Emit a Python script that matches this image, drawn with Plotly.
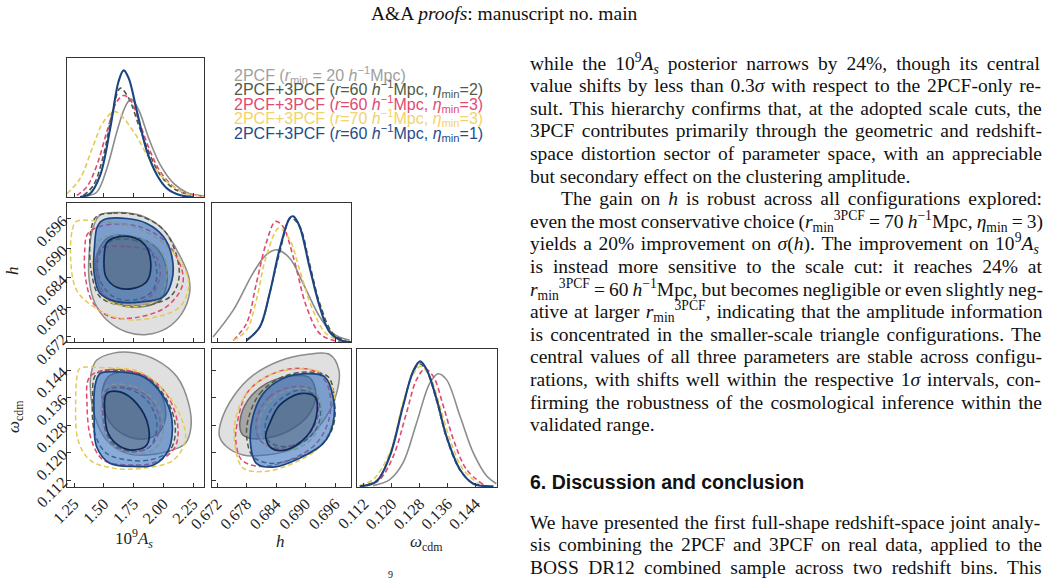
import re
import plotly.graph_objects as go

# ---------------- data ----------------
AS_TICKS = [1.25, 1.50, 1.75, 2.00, 2.25]
AS_LABELS = ["1.25", "1.50", "1.75", "2.00", "2.25"]
H_TICKS = [0.672, 0.678, 0.684, 0.690, 0.696]
H_LABELS = ["0.672", "0.678", "0.684", "0.690", "0.696"]
OM_TICKS = [0.112, 0.120, 0.128, 0.136, 0.144]
OM_LABELS = ["0.112", "0.120", "0.128", "0.136", "0.144"]

SERIES = ["2pcf", "eta2", "eta3", "r70", "eta1"]
LEGEND_TEXT = [
    "2PCF (<i>r</i><sub>min</sub> = 20 <i>h</i><sup>−1</sup>Mpc)",
    "2PCF+3PCF (<i>r</i>=60 <i>h</i><sup>−1</sup>Mpc, <i>η</i><sub>min</sub>=2)",
    "2PCF+3PCF (<i>r</i>=60 <i>h</i><sup>−1</sup>Mpc, <i>η</i><sub>min</sub>=3)",
    "2PCF+3PCF (<i>r</i>=70 <i>h</i><sup>−1</sup>Mpc, <i>η</i><sub>min</sub>=3)",
    "2PCF+3PCF (<i>r</i>=60 <i>h</i><sup>−1</sup>Mpc, <i>η</i><sub>min</sub>=1)",
]

# 1D marginal of 10^9 A_s  (x, relative density)
As_pdf_2pcf = [(1.357, 0.007), (1.442, 0.036), (1.526, 0.205), (1.610, 0.470), (1.681, 0.651), (1.729, 0.704),
               (1.793, 0.627), (1.878, 0.422), (1.976, 0.229), (2.089, 0.096), (2.201, 0.031), (2.342, 0.007)]
As_pdf_eta2 = [(1.329, 0.012), (1.413, 0.084), (1.498, 0.301), (1.568, 0.590), (1.639, 0.783), (1.709, 0.711),
               (1.793, 0.518), (1.878, 0.325), (1.976, 0.157), (2.089, 0.060), (2.230, 0.012)]
As_pdf_eta3 = [(1.273, 0.012), (1.357, 0.072), (1.442, 0.229), (1.526, 0.470), (1.610, 0.687), (1.667, 0.730),
               (1.723, 0.699), (1.807, 0.518), (1.892, 0.325), (1.976, 0.181), (2.089, 0.072), (2.201, 0.024),
               (2.342, 0.007)]
As_pdf_r70 = [(1.190, 0.024), (1.301, 0.133), (1.413, 0.373), (1.498, 0.542), (1.596, 0.614), (1.751, 0.470),
              (1.864, 0.301), (1.976, 0.157), (2.089, 0.072), (2.201, 0.024), (2.342, 0.005)]
As_pdf_eta1 = [(1.301, 0.0), (1.385, 0.024), (1.470, 0.157), (1.554, 0.494), (1.624, 0.831), (1.667, 0.911),
               (1.709, 0.855), (1.779, 0.614), (1.864, 0.325), (1.948, 0.157), (2.033, 0.060), (2.145, 0.012),
               (2.258, 0.0)]

# 1D marginal of h
h_pdf_2pcf = [(0.6712, 0.036), (0.6753, 0.229), (0.6793, 0.494), (0.6820, 0.627), (0.6842, 0.663), (0.6868, 0.602),
              (0.6895, 0.422), (0.6929, 0.181), (0.6956, 0.060), (0.6990, 0.012)]
h_pdf_eta2 = [(0.6780, 0.012), (0.6807, 0.108), (0.6827, 0.349), (0.6847, 0.639), (0.6870, 0.892), (0.6888, 0.831),
              (0.6908, 0.566), (0.6929, 0.277), (0.6956, 0.060), (0.6983, 0.007)]
h_pdf_eta3 = [(0.6753, 0.012), (0.6780, 0.133), (0.6800, 0.422), (0.6820, 0.711), (0.6839, 0.867), (0.6854, 0.831),
              (0.6875, 0.614), (0.6902, 0.253), (0.6929, 0.060), (0.6956, 0.012), (0.6990, 0.0)]
h_pdf_r70 = [(0.6753, 0.012), (0.6780, 0.084), (0.6800, 0.301), (0.6820, 0.614), (0.6846, 0.819), (0.6868, 0.735),
             (0.6888, 0.518), (0.6915, 0.229), (0.6942, 0.060), (0.6970, 0.012), (0.6990, 0.0)]
h_pdf_eta1 = [(0.6780, 0.012), (0.6807, 0.108), (0.6827, 0.349), (0.6847, 0.663), (0.6868, 0.892), (0.6875, 0.904),
              (0.6888, 0.831), (0.6908, 0.542), (0.6929, 0.253), (0.6949, 0.072), (0.6976, 0.007), (0.6993, 0.0)]

# 1D marginal of omega_cdm
om_pdf_2pcf = [(0.1146, 0.005), (0.1194, 0.049), (0.1232, 0.170), (0.1271, 0.461), (0.1309, 0.752), (0.1333, 0.820),
               (0.1357, 0.777), (0.1396, 0.510), (0.1434, 0.243), (0.1473, 0.073), (0.1500, 0.019)]
om_pdf_eta2 = [(0.1108, 0.003), (0.1156, 0.040), (0.1194, 0.225), (0.1232, 0.590), (0.1261, 0.830), (0.1279, 0.893),
               (0.1300, 0.840), (0.1329, 0.620), (0.1357, 0.355), (0.1396, 0.118), (0.1434, 0.020), (0.1473, 0.003)]
om_pdf_eta3 = [(0.1127, 0.005), (0.1165, 0.049), (0.1204, 0.218), (0.1242, 0.534), (0.1271, 0.777), (0.1295, 0.854),
               (0.1319, 0.801), (0.1348, 0.583), (0.1377, 0.340), (0.1415, 0.121), (0.1463, 0.012)]
om_pdf_r70 = [(0.1108, 0.005), (0.1146, 0.049), (0.1194, 0.243), (0.1232, 0.607), (0.1261, 0.813), (0.1283, 0.874),
              (0.1309, 0.801), (0.1338, 0.583), (0.1367, 0.340), (0.1405, 0.121), (0.1453, 0.012)]
om_pdf_eta1 = [(0.1108, 0.0), (0.1156, 0.036), (0.1194, 0.218), (0.1232, 0.583), (0.1261, 0.837), (0.1281, 0.910),
               (0.1300, 0.850), (0.1329, 0.631), (0.1357, 0.364), (0.1396, 0.121), (0.1434, 0.019), (0.1492, 0.0)]

# 2D contours: (10^9 A_s, h); _o = 95%, _i = 68%
hA_2pcf_o = [(1.467, 0.6968), (1.636, 0.6973), (1.833, 0.6965), (2.002, 0.6938), (2.129, 0.6890), (2.213, 0.6843),
             (2.221, 0.6809), (2.157, 0.6768), (2.030, 0.6738), (1.861, 0.6725), (1.692, 0.6730), (1.523, 0.6755),
             (1.425, 0.6789), (1.377, 0.6836), (1.377, 0.6890), (1.405, 0.6938)]
hA_2pcf_i = [(1.551, 0.6924), (1.749, 0.6924), (1.918, 0.6907), (2.016, 0.6870), (2.030, 0.6829), (1.974, 0.6795),
             (1.833, 0.6782), (1.636, 0.6785), (1.495, 0.6805), (1.439, 0.6843), (1.445, 0.6890)]
hA_eta2_o = [(1.439, 0.6965), (1.580, 0.6972), (1.805, 0.6966), (2.002, 0.6938), (2.115, 0.6883), (2.129, 0.6836),
             (2.058, 0.6802), (1.861, 0.6785), (1.636, 0.6785), (1.467, 0.6802), (1.397, 0.6850), (1.382, 0.6911),
             (1.397, 0.6944)]
hA_eta2_i = [(1.551, 0.6914), (1.749, 0.6917), (1.889, 0.6897), (1.946, 0.6849), (1.903, 0.6812), (1.749, 0.6795),
             (1.580, 0.6802), (1.467, 0.6836), (1.453, 0.6883)]
hA_eta3_o = [(1.368, 0.6931), (1.523, 0.6948), (1.805, 0.6944), (2.030, 0.6911), (2.157, 0.6856), (2.157, 0.6822),
             (2.030, 0.6782), (1.805, 0.6761), (1.551, 0.6761), (1.411, 0.6789), (1.349, 0.6836), (1.340, 0.6897)]
hA_eta3_i = [(1.467, 0.6897), (1.692, 0.6904), (1.918, 0.6890), (1.974, 0.6849), (1.889, 0.6802), (1.692, 0.6789),
             (1.523, 0.6802), (1.453, 0.6849)]
hA_r70_o = [(1.270, 0.6955), (1.467, 0.6955), (1.749, 0.6944), (2.002, 0.6911), (2.185, 0.6856), (2.213, 0.6822),
            (2.143, 0.6782), (1.946, 0.6761), (1.664, 0.6756), (1.411, 0.6782), (1.270, 0.6816), (1.222, 0.6877),
            (1.236, 0.6938)]
hA_r70_i = [(1.467, 0.6917), (1.749, 0.6924), (1.974, 0.6897), (2.030, 0.6849), (1.946, 0.6795), (1.692, 0.6782),
            (1.495, 0.6802), (1.411, 0.6856)]
hA_eta1_o = [(1.495, 0.6958), (1.692, 0.6961), (1.861, 0.6951), (2.002, 0.6924), (2.073, 0.6883), (2.073, 0.6836),
             (2.002, 0.6802), (1.805, 0.6791), (1.608, 0.6792), (1.467, 0.6809), (1.419, 0.6850), (1.422, 0.6904),
             (1.445, 0.6944)]
hA_eta1_i = [(1.580, 0.6921), (1.720, 0.6924), (1.847, 0.6907), (1.895, 0.6870), (1.861, 0.6833), (1.749, 0.6819),
             (1.608, 0.6821), (1.517, 0.6843), (1.503, 0.6883), (1.523, 0.6911)]

# 2D contours: (10^9 A_s, omega_cdm)
oA_2pcf_o = [(1.439, 0.1469), (1.580, 0.1490), (1.749, 0.1491), (1.946, 0.1469), (2.115, 0.1421), (2.213, 0.1343),
             (2.233, 0.1276), (2.185, 0.1227), (2.030, 0.1203), (1.861, 0.1193), (1.692, 0.1198), (1.523, 0.1237),
             (1.425, 0.1305), (1.388, 0.1382), (1.396, 0.1435)]
oA_2pcf_i = [(1.551, 0.1425), (1.720, 0.1435), (1.889, 0.1411), (2.002, 0.1353), (2.008, 0.1285), (1.918, 0.1247),
             (1.749, 0.1242), (1.580, 0.1276), (1.495, 0.1334), (1.495, 0.1392)]
oA_eta2_o = [(1.439, 0.1430), (1.636, 0.1440), (1.861, 0.1421), (2.030, 0.1353), (2.101, 0.1276), (2.058, 0.1208),
             (1.889, 0.1179), (1.692, 0.1179), (1.523, 0.1198), (1.425, 0.1256), (1.405, 0.1353)]
oA_eta2_i = [(1.523, 0.1382), (1.692, 0.1387), (1.861, 0.1353), (1.946, 0.1285), (1.889, 0.1218), (1.749, 0.1203),
             (1.594, 0.1222), (1.509, 0.1276), (1.495, 0.1334)]
oA_eta3_o = [(1.382, 0.1421), (1.551, 0.1442), (1.805, 0.1430), (2.002, 0.1382), (2.115, 0.1295), (2.101, 0.1218),
             (1.946, 0.1174), (1.720, 0.1164), (1.495, 0.1179), (1.396, 0.1237), (1.360, 0.1334)]
oA_eta3_i = [(1.523, 0.1382), (1.749, 0.1387), (1.918, 0.1343), (1.974, 0.1276), (1.889, 0.1218), (1.720, 0.1203),
             (1.566, 0.1227), (1.495, 0.1295)]
oA_r70_o = [(1.298, 0.1445), (1.467, 0.1448), (1.805, 0.1435), (2.030, 0.1372), (2.157, 0.1295), (2.185, 0.1237),
            (2.087, 0.1179), (1.833, 0.1155), (1.580, 0.1155), (1.382, 0.1179), (1.284, 0.1237), (1.264, 0.1353),
            (1.275, 0.1421)]
oA_r70_i = [(1.523, 0.1392), (1.749, 0.1392), (1.946, 0.1343), (2.002, 0.1266), (1.918, 0.1208), (1.720, 0.1198),
            (1.551, 0.1227), (1.481, 0.1305)]
oA_eta1_o = [(1.467, 0.1430), (1.636, 0.1435), (1.833, 0.1421), (2.002, 0.1363), (2.073, 0.1295), (2.044, 0.1208),
             (1.918, 0.1164), (1.749, 0.1160), (1.551, 0.1169), (1.439, 0.1218), (1.419, 0.1305), (1.425, 0.1392)]
oA_eta1_i = [(1.523, 0.1372), (1.636, 0.1377), (1.777, 0.1343), (1.875, 0.1276), (1.861, 0.1222), (1.763, 0.1208),
             (1.636, 0.1218), (1.537, 0.1256), (1.509, 0.1314)]

# 2D contours: (h, omega_cdm)
oh_2pcf_o = [(0.6727, 0.1285), (0.6753, 0.1363), (0.6793, 0.1425), (0.6847, 0.1467), (0.6902, 0.1486),
             (0.6949, 0.1486), (0.6968, 0.1440), (0.6963, 0.1372), (0.6942, 0.1305), (0.6908, 0.1247),
             (0.6868, 0.1208), (0.6820, 0.1193), (0.6773, 0.1193), (0.6739, 0.1218), (0.6725, 0.1247)]
oh_2pcf_i = [(0.6767, 0.1295), (0.6783, 0.1353), (0.6820, 0.1401), (0.6868, 0.1423), (0.6908, 0.1419),
             (0.6921, 0.1372), (0.6908, 0.1314), (0.6875, 0.1271), (0.6827, 0.1244), (0.6786, 0.1242),
             (0.6770, 0.1256)]
oh_eta2_o = [(0.6783, 0.1295), (0.6807, 0.1372), (0.6854, 0.1421), (0.6908, 0.1435), (0.6946, 0.1421),
             (0.6959, 0.1353), (0.6956, 0.1276), (0.6929, 0.1218), (0.6881, 0.1184), (0.6827, 0.1169),
             (0.6793, 0.1189), (0.6781, 0.1237)]
oh_eta2_i = [(0.6820, 0.1295), (0.6847, 0.1353), (0.6888, 0.1382), (0.6922, 0.1363), (0.6929, 0.1295),
             (0.6902, 0.1237), (0.6854, 0.1218), (0.6823, 0.1237)]
oh_eta3_o = [(0.6761, 0.1285), (0.6780, 0.1372), (0.6820, 0.1421), (0.6875, 0.1445), (0.6922, 0.1435),
             (0.6946, 0.1392), (0.6949, 0.1305), (0.6922, 0.1227), (0.6868, 0.1179), (0.6807, 0.1160),
             (0.6770, 0.1179), (0.6758, 0.1237)]
oh_eta3_i = [(0.6800, 0.1295), (0.6827, 0.1363), (0.6875, 0.1392), (0.6915, 0.1382), (0.6925, 0.1305),
             (0.6895, 0.1237), (0.6841, 0.1213), (0.6807, 0.1237)]
oh_r70_o = [(0.6756, 0.1285), (0.6776, 0.1363), (0.6820, 0.1421), (0.6875, 0.1442), (0.6929, 0.1435),
            (0.6956, 0.1382), (0.6956, 0.1295), (0.6929, 0.1218), (0.6875, 0.1169), (0.6814, 0.1145),
            (0.6773, 0.1155), (0.6758, 0.1208)]
oh_r70_i = [(0.6807, 0.1295), (0.6834, 0.1358), (0.6881, 0.1387), (0.6922, 0.1372), (0.6932, 0.1295),
            (0.6902, 0.1227), (0.6847, 0.1203), (0.6814, 0.1232)]
oh_eta1_o = [(0.6793, 0.1305), (0.6814, 0.1372), (0.6854, 0.1416), (0.6902, 0.1430), (0.6939, 0.1421),
             (0.6956, 0.1363), (0.6956, 0.1285), (0.6936, 0.1227), (0.6888, 0.1184), (0.6834, 0.1158),
             (0.6800, 0.1169), (0.6788, 0.1227)]
oh_eta1_i = [(0.6827, 0.1285), (0.6847, 0.1338), (0.6888, 0.1372), (0.6919, 0.1363), (0.6922, 0.1305),
             (0.6902, 0.1247), (0.6861, 0.1208), (0.6831, 0.1213), (0.6819, 0.1247)]

# page text
HEADER = "A&amp;A <i>proofs</i>: manuscript no. main"
PARA1 = [
    ("while the 10<sup>9</sup><i>A<sub>s</sub></i> posterior narrows by 24%, though its central", 0, True),
    ("value shifts by less than 0.3<i>σ</i> with respect to the 2PCF-only re-", 0, True),
    ("sult. This hierarchy confirms that, at the adopted scale cuts, the", 0, True),
    ("3PCF contributes primarily through the geometric and redshift-", 0, True),
    ("space distortion sector of parameter space, with an appreciable", 0, True),
    ("but secondary effect on the clustering amplitude.", 0, False),
    ("The gain on <i>h</i> is robust across all configurations explored:", 1, True),
    ("even the most conservative choice (<i>r</i><sub>min</sub><sup>3PCF</sup> = 70 <i>h</i><sup>−1</sup>Mpc, <i>η</i><sub>min</sub> = 3)", 0, True),
    ("yields a 20% improvement on <i>σ</i>(<i>h</i>). The improvement on 10<sup>9</sup><i>A<sub>s</sub></i>", 0, True),
    ("is instead more sensitive to the scale cut: it reaches 24% at", 0, True),
    ("<i>r</i><sub>min</sub><sup>3PCF</sup> = 60 <i>h</i><sup>−1</sup>Mpc, but becomes negligible or even slightly neg-", 0, True),
    ("ative at larger <i>r</i><sub>min</sub><sup>3PCF</sup>, indicating that the amplitude information", 0, True),
    ("is concentrated in the smaller-scale triangle configurations. The", 0, True),
    ("central values of all three parameters are stable across configu-", 0, True),
    ("rations, with shifts well within the respective 1<i>σ</i> intervals, con-", 0, True),
    ("firming the robustness of the cosmological inference within the", 0, True),
    ("validated range.", 0, False),
]
HEADING = "6. Discussion and conclusion"
PARA2 = [
    ("We have presented the first full-shape redshift-space joint analy-", 0, True),
    ("sis combining the 2PCF and 3PCF on real data, applied to the", 0, True),
    ("BOSS DR12 combined sample across two redshift bins. This", 0, True),
]

# ---------------- styling ----------------
W, H = 1046, 581
COL = {"2pcf": "#8c8c8c", "eta2": "#4d5946", "eta3": "#e2476f", "r70": "#e3cb55", "eta1": "#1b4582"}
LEG_COL = ["#a0a0a0", "#4f5a48", "#e24a72", "#f2d36c", "#1f4c8a"]
FILL = {"2pcf": ("#e0e0e0", "#a6a6a6"), "eta1": ("rgba(50,110,190,0.58)", "rgba(80,85,95,0.33)")}
INNER_EDGE = {"2pcf": "#6a6a6a", "eta1": "#0f2a55"}
SERIF = "Liberation Serif"

fig = go.Figure()


def px2x(px):
    return px / W


def py2y(py):
    return 1 - py / H


COLS = [(67, 204), (212, 351), (357, 497)]
ROWS = [(58, 197), (203, 342), (349, 487)]
AS_RANGE = [1.191, 2.342]
H_RANGE = [0.67098, 0.69925]
OM_RANGE = [0.1100, 0.1502]


def dom_x(c):
    return [px2x(COLS[c][0]), px2x(COLS[c][1])]


def dom_y(r):
    return [py2y(ROWS[r][1]), py2y(ROWS[r][0])]


def axis(dom, rng, ticks, labels, anchor, show, angle=-45, has_ticks=True):
    return dict(domain=dom, range=rng, anchor=anchor, automargin=False,
                tickvals=ticks if has_ticks else [], ticktext=labels if has_ticks else [],
                showticklabels=show, ticks="inside" if has_ticks else "", ticklen=4, tickwidth=1,
                tickcolor="#333", showline=True, linecolor="#333", linewidth=1.3, mirror=True,
                showgrid=False, zeroline=False, tickangle=angle,
                tickfont=dict(family=SERIF, size=16, color="#222"), fixedrange=True)


layout_axes = {
    "xaxis": axis(dom_x(0), AS_RANGE, AS_TICKS, AS_LABELS, "y", False),
    "yaxis": axis(dom_y(0), [0, 1.0], [], [], "x", False, has_ticks=False),
    "xaxis2": axis(dom_x(0), AS_RANGE, AS_TICKS, AS_LABELS, "y2", False),
    "yaxis2": axis(dom_y(1), H_RANGE, H_TICKS, H_LABELS, "x2", True),
    "xaxis3": axis(dom_x(1), H_RANGE, H_TICKS, H_LABELS, "y3", False),
    "yaxis3": axis(dom_y(1), [0, 1.0], [], [], "x3", False, has_ticks=False),
    "xaxis4": axis(dom_x(0), AS_RANGE, AS_TICKS, AS_LABELS, "y4", True),
    "yaxis4": axis(dom_y(2), OM_RANGE, OM_TICKS, OM_LABELS, "x4", True),
    "xaxis5": axis(dom_x(1), H_RANGE, H_TICKS, H_LABELS, "y5", True),
    "yaxis5": axis(dom_y(2), OM_RANGE, OM_TICKS, OM_LABELS, "x5", False),
    "xaxis6": axis(dom_x(2), OM_RANGE, OM_TICKS, OM_LABELS, "y6", True),
    "yaxis6": axis(dom_y(2), [-0.005, 1.0], [], [], "x6", False, has_ticks=False),
}


def add_pdf(pts, xa, ya, key):
    dash = "solid" if key in ("2pcf", "eta1") else "5px,3px"
    width = 2.1 if key == "eta1" else 1.6
    fig.add_trace(go.Scatter(x=[p[0] for p in pts], y=[p[1] for p in pts], xaxis=xa, yaxis=ya, mode="lines",
                             line=dict(color=COL[key], width=width, dash=dash, shape="spline", smoothing=1.0),
                             showlegend=False, hoverinfo="skip"))


def add_contour(pts, xa, ya, key, inner):
    xs = [p[0] for p in pts] + [pts[0][0]]
    ys = [p[1] for p in pts] + [pts[0][1]]
    filled = key in FILL
    dash = "solid" if filled else "5px,3px"
    color = INNER_EDGE[key] if (filled and inner) else COL[key]
    width = 1.7 if key == "eta1" else 1.5
    kw = {}
    if filled:
        kw = dict(fill="toself", fillcolor=FILL[key][1 if inner else 0])
    fig.add_trace(go.Scatter(x=xs, y=ys, xaxis=xa, yaxis=ya, mode="lines",
                             line=dict(color=color, width=width, dash=dash, shape="spline", smoothing=1.0),
                             showlegend=False, hoverinfo="skip", **kw))


PDFS = [
    ("x", "y", [As_pdf_2pcf, As_pdf_eta2, As_pdf_eta3, As_pdf_r70, As_pdf_eta1]),
    ("x3", "y3", [h_pdf_2pcf, h_pdf_eta2, h_pdf_eta3, h_pdf_r70, h_pdf_eta1]),
    ("x6", "y6", [om_pdf_2pcf, om_pdf_eta2, om_pdf_eta3, om_pdf_r70, om_pdf_eta1]),
]
for xa, ya, lst in PDFS:
    for key, pts in zip(SERIES, lst):
        add_pdf(pts, xa, ya, key)

CONTOURS = [
    ("x2", "y2", [(hA_2pcf_o, hA_2pcf_i), (hA_eta2_o, hA_eta2_i), (hA_eta3_o, hA_eta3_i),
                  (hA_r70_o, hA_r70_i), (hA_eta1_o, hA_eta1_i)]),
    ("x4", "y4", [(oA_2pcf_o, oA_2pcf_i), (oA_eta2_o, oA_eta2_i), (oA_eta3_o, oA_eta3_i),
                  (oA_r70_o, oA_r70_i), (oA_eta1_o, oA_eta1_i)]),
    ("x5", "y5", [(oh_2pcf_o, oh_2pcf_i), (oh_eta2_o, oh_eta2_i), (oh_eta3_o, oh_eta3_i),
                  (oh_r70_o, oh_r70_i), (oh_eta1_o, oh_eta1_i)]),
]
for xa, ya, lst in CONTOURS:
    for key, (outer, inner) in zip(SERIES, lst):
        add_contour(outer, xa, ya, key, False)
        add_contour(inner, xa, ya, key, True)

# ---------------- annotations ----------------
ann = []


def text(px, py, s, size, color="#111", family=SERIF, xanchor="left", yanchor="middle", angle=0):
    ann.append(dict(x=px2x(px), y=py2y(py), xref="paper", yref="paper", text=s, showarrow=False,
                    xanchor=xanchor, yanchor=yanchor, align="left", textangle=angle,
                    font=dict(family=family, size=size, color=color)))


# legend
LEG_Y = [75, 89.4, 104, 118.4, 132.8]
for s, c, yy in zip(LEGEND_TEXT, LEG_COL, LEG_Y):
    text(232, yy, s, 16, color=c, family="Liberation Sans")

# axis titles
text(134, 538, "10<sup>9</sup><i>A<sub>s</sub></i>", 17, color="#222", xanchor="center")
text(280, 541, "<i>h</i>", 17, color="#222", xanchor="center")
text(426, 543, "<i>ω</i><sub>cdm</sub>", 17, color="#222", xanchor="center")
text(12, 271, "<i>h</i>", 17, color="#222", xanchor="center", angle=-90)
text(15, 417, "<i>ω</i><sub>cdm</sub>", 17, color="#222", xanchor="center", angle=-90)

# header
text(504, 14, HEADER, 19.5, color="#111", xanchor="center")

# justified body text
_TW = {}
for ch, w in zip("abcdefghijklmnopqrstuvwxyz",
                 [444, 500, 444, 500, 444, 333, 500, 500, 278, 278, 500, 278, 778, 500, 500, 500, 500, 333, 389,
                  278, 500, 500, 722, 500, 500, 444]):
    _TW[ch] = w
for ch, w in zip("ABCDEFGHIJKLMNOPQRSTUVWXYZ",
                 [722, 667, 667, 722, 611, 556, 722, 722, 333, 389, 722, 611, 889, 722, 722, 556, 722, 667, 556,
                  611, 722, 722, 944, 722, 722, 611]):
    _TW[ch] = w
for ch in "0123456789":
    _TW[ch] = 500
_TW.update({" ": 250, ".": 250, ",": 250, ":": 278, ";": 278, "-": 333, "(": 333, ")": 333, "%": 833,
            "=": 564, "−": 564, "σ": 550, "η": 500})


def measure(markup, size):
    total, spaces, scale = 0.0, 0, 1.0
    for tok in re.split(r"(<[^>]+>)", markup):
        if tok.startswith("<"):
            name = tok.strip("<>/").split()[0].lower()
            if name in ("sup", "sub"):
                scale = 1.0 if tok.startswith("</") else 0.7
            continue
        for ch in tok:
            total += _TW.get(ch, 500) * scale
            if ch == " ":
                spaces += 1
    return total * size / 1000.0, spaces


BODY = 19.5
LEFT, RIGHT, INDENT = 528, 1040, 31


def body_line(py, s, indent, justify):
    x0 = LEFT + INDENT * indent
    if justify:
        w, n = measure(s, BODY)
        ws = (RIGHT - x0 - w) / max(n, 1)
        s = '<span style="word-spacing:%.2fpx">%s</span>' % (ws, s)
    text(x0, py, s, BODY)


for k, (s, ind, j) in enumerate(PARA1):
    body_line(63 + 22.6 * k, s, ind, j)
text(528, 482, "<b>" + HEADING + "</b>", 19.5, family="Liberation Sans")
for k, (s, ind, j) in enumerate(PARA2):
    body_line(522 + 22.6 * k, s, ind, j)
text(386, 574, "9", 10)

fig.update_layout(width=W, height=H, margin=dict(l=0, r=0, t=0, b=0, pad=0, autoexpand=False),
                  paper_bgcolor="white", plot_bgcolor="white", showlegend=False, annotations=ann,
                  **layout_axes)

fig.write_html("out.html")
